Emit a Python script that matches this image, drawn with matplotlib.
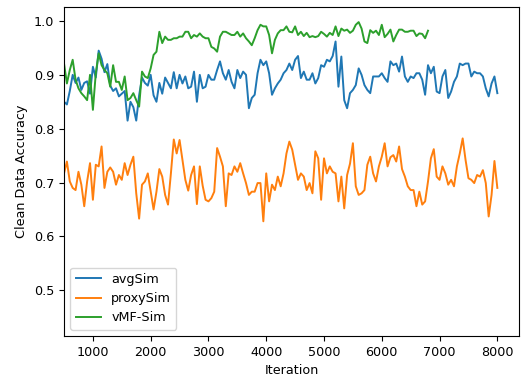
import numpy as np
import matplotlib
matplotlib.use("Agg")
import matplotlib.pyplot as plt

# iterations, every 50 steps
iters = np.arange(500, 8001, 50)
iters_vmf = np.arange(500, 6801, 50)

avg_sim = [
    0.850, 0.845, 0.870, 0.900, 0.885, 0.895, 0.872, 0.885, 0.888, 0.865,
    0.915, 0.895, 0.945, 0.930, 0.905, 0.920, 0.880, 0.870, 0.875, 0.860,
    0.865, 0.870, 0.815, 0.850, 0.840, 0.815, 0.862, 0.895, 0.885, 0.880,
    0.900, 0.862, 0.850, 0.885, 0.865, 0.895, 0.885, 0.875, 0.905, 0.875,
    0.900, 0.884, 0.897, 0.875, 0.878, 0.906, 0.850, 0.900, 0.875, 0.878,
    0.900, 0.891, 0.891, 0.909, 0.925, 0.903, 0.891, 0.909, 0.887, 0.875,
    0.909, 0.894, 0.906, 0.900, 0.838, 0.857, 0.863, 0.903, 0.928, 0.918,
    0.925, 0.903, 0.863, 0.875, 0.884, 0.891, 0.903, 0.909, 0.921, 0.909,
    0.928, 0.935, 0.894, 0.906, 0.891, 0.891, 0.903, 0.884, 0.894, 0.918,
    0.915, 0.928, 0.925, 0.935, 0.962, 0.878, 0.934, 0.853, 0.838, 0.866,
    0.872, 0.881, 0.912, 0.900, 0.881, 0.872, 0.866, 0.897, 0.897, 0.897,
    0.903, 0.894, 0.887, 0.925, 0.918, 0.921, 0.906, 0.934, 0.897, 0.887,
    0.897, 0.894, 0.903, 0.903, 0.891, 0.863, 0.918, 0.903, 0.915, 0.869,
    0.866, 0.897, 0.909, 0.857, 0.869, 0.887, 0.897, 0.921, 0.918, 0.921,
    0.921, 0.897, 0.906, 0.903, 0.903, 0.897, 0.875, 0.860, 0.884, 0.897,
    0.866,
]

proxy_sim = [
    0.717, 0.739, 0.702, 0.690, 0.686, 0.720, 0.696, 0.656, 0.702, 0.736,
    0.668, 0.733, 0.730, 0.767, 0.690, 0.720, 0.728, 0.720, 0.696, 0.714,
    0.705, 0.736, 0.714, 0.733, 0.748, 0.680, 0.633, 0.696, 0.702, 0.717,
    0.683, 0.650, 0.683, 0.725, 0.711, 0.677, 0.659, 0.717, 0.780, 0.754,
    0.779, 0.742, 0.705, 0.685, 0.714, 0.730, 0.660, 0.730, 0.694, 0.668,
    0.665, 0.671, 0.683, 0.764, 0.748, 0.730, 0.656, 0.717, 0.714, 0.730,
    0.720, 0.736, 0.717, 0.699, 0.677, 0.683, 0.683, 0.699, 0.699, 0.628,
    0.717, 0.665, 0.696, 0.686, 0.711, 0.693, 0.717, 0.754, 0.776, 0.761,
    0.733, 0.705, 0.717, 0.711, 0.686, 0.699, 0.680, 0.758, 0.745,
    0.668, 0.745, 0.717, 0.730, 0.720, 0.717, 0.665, 0.711, 0.652, 0.714,
    0.735, 0.773, 0.693, 0.677, 0.680, 0.686, 0.733, 0.748, 0.717, 0.702,
    0.730, 0.748, 0.773, 0.730, 0.747, 0.751, 0.739, 0.767, 0.725, 0.711,
    0.693, 0.686, 0.686, 0.656, 0.683, 0.659, 0.665, 0.702, 0.745, 0.762,
    0.711, 0.705, 0.730, 0.717, 0.696, 0.705, 0.693, 0.730, 0.754, 0.782,
    0.742, 0.708, 0.705, 0.699, 0.714, 0.711, 0.723, 0.699, 0.637, 0.677,
    0.740, 0.690,
]

vmf_sim = [
    0.921, 0.884, 0.909, 0.928, 0.891, 0.875, 0.866, 0.860, 0.853, 0.900,
    0.835, 0.903, 0.940, 0.918, 0.909, 0.903, 0.878, 0.918, 0.887, 0.887,
    0.872, 0.897, 0.853, 0.857, 0.866, 0.853, 0.841, 0.906, 0.897, 0.894,
    0.912, 0.937, 0.943, 0.980, 0.959, 0.971, 0.965, 0.965, 0.968, 0.968,
    0.971, 0.971, 0.980, 0.980, 0.968, 0.974, 0.971, 0.977, 0.971, 0.968,
    0.968, 0.952, 0.949, 0.943, 0.971, 0.980, 0.980, 0.977, 0.974, 0.974,
    0.980, 0.971, 0.977, 0.968, 0.962, 0.955, 0.968, 0.983, 0.993, 0.990,
    0.990, 0.974, 0.940, 0.965, 0.977, 0.983, 0.983, 0.990, 0.980, 0.979,
    0.990, 0.974, 0.980, 0.972, 0.978, 0.970, 0.972, 0.970, 0.972, 0.980,
    0.976, 0.971, 0.978, 0.974, 0.990, 0.972, 0.986, 0.982, 0.984, 0.978,
    0.982, 0.993, 0.998, 0.986, 0.962, 0.959, 0.983, 0.978, 0.982, 0.974,
    0.993, 0.970, 0.976, 0.984, 0.962, 0.974, 0.984, 0.984, 0.980, 0.980,
    0.982, 0.982, 0.972, 0.977, 0.976, 0.968, 0.982,
]

plt.rcParams["font.size"] = 9.2

fig = plt.figure(figsize=(5.26, 3.77), dpi=100)
ax = fig.add_axes([0.1217, 0.1088, 0.8650, 0.8726])

ax.plot(iters, avg_sim, label="avgSim", lw=1.4)
ax.plot(iters, proxy_sim, label="proxySim", lw=1.4)
ax.plot(iters_vmf, vmf_sim, label="vMF-Sim", lw=1.4)

ax.set_xlim(500, 8375)
ax.set_ylim(0.415, 1.026)
ax.set_xticks([1000, 2000, 3000, 4000, 5000, 6000, 7000, 8000])
ax.set_yticks([0.5, 0.6, 0.7, 0.8, 0.9, 1.0])
ax.set_xlabel("Iteration")
ax.set_ylabel("Clean Data Accuracy")
ax.legend(loc="lower left")

fig.savefig("out.png", dpi=100)
